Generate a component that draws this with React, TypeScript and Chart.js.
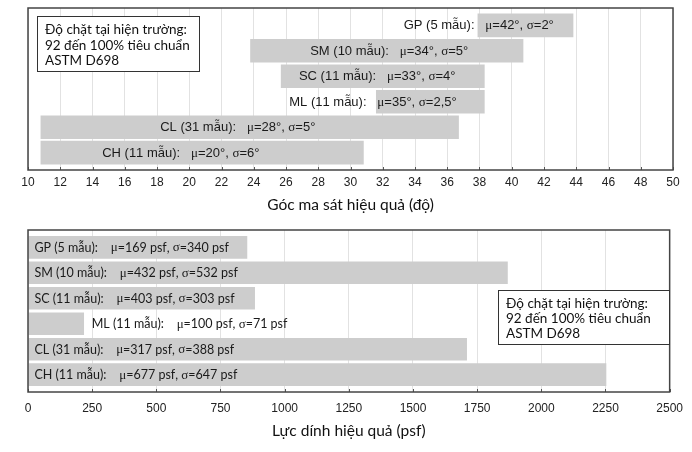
import React, { useEffect, useRef } from 'react';
import { Chart, ChartConfiguration, Plugin, registerables } from 'chart.js';

Chart.register(...registerables);

// nhóm đất và số mẫu
const soilTypes = ['GP', 'SM', 'SC', 'ML', 'CL', 'CH'];
const sampleCounts = [5, 10, 11, 11, 31, 11];

// góc ma sát hiệu quả (độ): khoảng giá trị của từng nhóm
const frictionLow = [37.9, 23.8, 25.7, 31.6, 10.8, 10.8];
const frictionHigh = [43.8, 40.7, 38.3, 38.3, 36.7, 30.8];
const frictionMean = ['42', '34', '33', '35', '28', '20'];
const frictionStd = ['2', '5', '4', '2,5', '5', '6'];

// lực dính hiệu quả (psf)
const cohesionMax = [853, 1868, 883, 217, 1709, 2252];
const cohesionMean = [169, 432, 403, 100, 317, 677];
const cohesionStd = [340, 532, 303, 71, 388, 647];

// where each bar's text starts, in axis units
const frictionLabelAt = [33.3, 27.5, 26.8, 26.2, 18.2, 14.6];
const cohesionLabelAt = [25, 25, 25, 248, 25, 25];

const noteLines = ['Độ chặt tại hiện trường:', '92 đến 100% tiêu chuẩn', 'ASTM D698'];

const frictionLabels = soilTypes.map(
  (s, i) => `${s} (${sampleCounts[i]} mẫu):   μ=${frictionMean[i]}°, σ=${frictionStd[i]}°`
);
const cohesionLabels = soilTypes.map(
  (s, i) => `${s} (${sampleCounts[i]} mẫu):    μ=${cohesionMean[i]} psf, σ=${cohesionStd[i]} psf`
);

const SANS = '"Liberation Sans", Arial, sans-serif';
const NOTE_FONT = 'Lato, "Noto Sans", sans-serif';

// greek letters look like the Symbol font in the original
function drawMixed(ctx: CanvasRenderingContext2D, text: string, x: number, y: number, font: string) {
  let cx = x;
  for (const ch of text) {
    ctx.font = ch === 'μ' || ch === 'σ' ? '13px "Liberation Serif", serif' : font;
    ctx.fillText(ch, cx, y);
    cx += ctx.measureText(ch).width;
  }
}

interface NoteBox { x: number; y: number; w: number; h: number; first: number; step: number }

function makeDecor(labels: string[], labelAt: number[], labelFont: string, note: NoteBox): Plugin {
  return {
    id: 'decor',
    afterDatasetsDraw(chart) {
      const { ctx, chartArea: a, scales } = chart;
      ctx.save();
      ctx.fillStyle = '#1a1a1a';
      ctx.textBaseline = 'middle';
      ctx.textAlign = 'left';
      labels.forEach((t, i) => {
        drawMixed(ctx, t, scales.x.getPixelForValue(labelAt[i]), scales.y.getPixelForValue(i) + 0.5, labelFont);
      });

      // small inward tick marks on the bottom edge
      ctx.strokeStyle = '#555';
      ctx.lineWidth = 1;
      scales.x.ticks.forEach((t) => {
        const px = Math.round(scales.x.getPixelForValue(t.value)) + 0.5;
        ctx.beginPath();
        ctx.moveTo(px, a.bottom);
        ctx.lineTo(px, a.bottom - 3);
        ctx.stroke();
      });

      ctx.strokeStyle = '#444';
      ctx.lineWidth = 1.5;
      ctx.strokeRect(a.left, a.top, a.right - a.left, a.bottom - a.top);

      ctx.fillStyle = '#fff';
      ctx.fillRect(note.x, note.y, note.w, note.h);
      ctx.strokeStyle = '#333';
      ctx.lineWidth = 1;
      ctx.strokeRect(note.x + 0.5, note.y + 0.5, note.w, note.h);
      ctx.fillStyle = '#111';
      ctx.font = `13.5px ${NOTE_FONT}`;
      noteLines.forEach((l, i) => ctx.fillText(l, note.x + 8, note.y + note.first + i * note.step));
      ctx.restore();
    },
  };
}

function xAxis(min: number, max: number, step: number, title: string, height: number, tickPad: number, titlePad: number) {
  return {
    type: 'linear' as const,
    min,
    max,
    ticks: {
      stepSize: step,
      color: '#222',
      font: { family: SANS, size: 12 },
      padding: tickPad,
      callback: (v: any) => String(v),
    },
    grid: { color: '#e2e2e2', drawTicks: false },
    border: { display: false },
    title: {
      display: true,
      text: title,
      color: '#111',
      font: { family: NOTE_FONT, size: 15.5 },
      padding: { top: 0, bottom: titlePad },
    },
    afterFit: (scale: any) => {
      scale.height = height;
    },
  };
}

const yAxis = {
  type: 'linear' as const,
  min: -0.68,
  max: 5.68,
  reverse: true,
  offset: false,
  display: false,
};

function useChart(ref: React.RefObject<HTMLCanvasElement | null>, build: () => ChartConfiguration) {
  useEffect(() => {
    if (!ref.current) return;
    const chart = new Chart(ref.current, build());
    return () => chart.destroy();
  }, []);
}

const App: React.FC = () => {
  const topRef = useRef<HTMLCanvasElement | null>(null);
  const bottomRef = useRef<HTMLCanvasElement | null>(null);

  useChart(topRef, () => ({
    type: 'bar',
    data: {
      datasets: [
        {
          data: soilTypes.map((_, i) => ({ x: [frictionLow[i], frictionHigh[i]], y: i })) as any,
          backgroundColor: '#cdcdcd',
          borderWidth: 0,
          barThickness: 23,
        },
      ],
    },
    options: {
      indexAxis: 'y',
      animation: false,
      responsive: false,
      layout: { padding: { left: 28, right: 19, top: 8, bottom: 0 } },
      scales: {
        x: xAxis(10, 50, 2, 'Góc ma sát hiệu quả (độ)', 50, 5, 6),
        y: yAxis,
      },
      plugins: { legend: { display: false }, tooltip: { enabled: false } },
    },
    plugins: [
      makeDecor(frictionLabels, frictionLabelAt, `13px ${SANS}`, { x: 37, y: 16, w: 162, h: 55, first: 14, step: 15.5 }),
    ],
  }));

  useChart(bottomRef, () => ({
    type: 'bar',
    data: {
      datasets: [
        {
          data: soilTypes.map((_, i) => ({ x: cohesionMax[i], y: i })) as any,
          backgroundColor: '#cdcdcd',
          borderWidth: 0,
          barThickness: 22,
        },
      ],
    },
    options: {
      indexAxis: 'y',
      animation: false,
      responsive: false,
      layout: { padding: { left: 28, right: 19, top: 8, bottom: 0 } },
      scales: {
        x: xAxis(0, 2500, 250, 'Lực dính hiệu quả (psf)', 60, 9, 12),
        y: yAxis,
      },
      plugins: { legend: { display: false }, tooltip: { enabled: false } },
    },
    plugins: [
      makeDecor(cohesionLabels, cohesionLabelAt, `12.5px ${NOTE_FONT}`, { x: 498, y: 68, w: 171, h: 54, first: 13.5, step: 15 }),
    ],
  }));

  return (
    <div style={{ position: 'fixed', left: 0, top: 0, width: 692, height: 452, background: '#fff' }}>
      <canvas ref={topRef} width={692} height={220} style={{ position: 'absolute', left: 0, top: 0 }} />
      <canvas ref={bottomRef} width={692} height={230} style={{ position: 'absolute', left: 0, top: 222 }} />
    </div>
  );
};

export default App;
